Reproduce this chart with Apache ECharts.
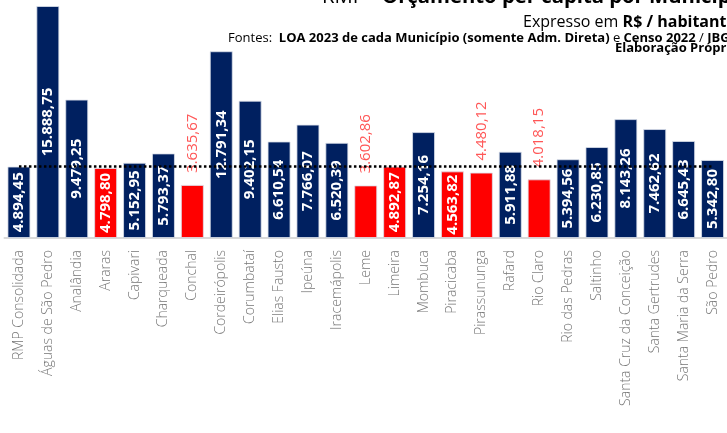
<!DOCTYPE html>
<html>
<head>
<meta charset="utf-8">
<script src="https://cdn.jsdelivr.net/npm/echarts@6/dist/echarts.min.js"></script>
<style>
html,body{margin:0;padding:0;background:#fff;}
#c{width:727px;height:433px;}
</style>
</head>
<body>
<div id="c"></div>
<script>
const categories = ["RMP Consolidada","Águas de São Pedro","Analândia","Araras","Capivari","Charqueada","Conchal","Cordeirópolis","Corumbataí","Elias Fausto","Ipeúna","Iracemápolis","Leme","Limeira","Mombuca","Piracicaba","Pirassununga","Rafard","Rio Claro","Rio das Pedras","Saltinho","Santa Cruz da Conceição","Santa Gertrudes","Santa Maria da Serra","São Pedro"];
const perCapita = [4894.45,15888.75,9479.25,4798.80,5152.95,5793.37,3635.67,12791.34,9402.15,6610.54,7766.07,6520.39,3602.86,4892.87,7254.16,4563.82,4480.12,5911.88,4018.15,5394.56,6230.85,8143.26,7462.62,6645.43,5342.80];
const rmpValue = perCapita[0];

function fmtBR(v){
  const parts = v.toFixed(2).split('.');
  const intp = parts[0].replace(/\B(?=(\d{3})+(?!\d))/g, '.');
  return intp + ',' + parts[1];
}

const NAVY = '#002060', RED = '#ff0000';
const seriesData = perCapita.map((v, i) => {
  const below = i > 0 && v < rmpValue;
  const outside = below && v < 4500;
  const item = {
    value: v,
    itemStyle: { color: below ? RED : NAVY }
  };
  if (outside) {
    item.label = {
      position: 'top', distance: 12, rotate: 90, align: 'left', verticalAlign: 'middle',
      color: '#ff5757', fontWeight: 'normal'
    };
  }
  return item;
});

const chart = echarts.init(document.getElementById('c'));
chart.setOption({
  animation: false,
  backgroundColor: '#ffffff',
  grid: { left: 4.5, right: -4, top: 0, bottom: 195, containLabel: false },
  xAxis: {
    type: 'category',
    data: categories,
    axisLine: { show: true, lineStyle: { color: '#d9d9d9', width: 2 } },
    axisTick: { show: false },
    axisLabel: {
      rotate: 90, interval: 0, margin: 12,
      color: '#767676', fontFamily: 'Open Sans', fontSize: 14, fontWeight: 300
    }
  },
  yAxis: {
    type: 'value', min: 0, max: 16300,
    show: false, splitLine: { show: false }
  },
  series: [{
    type: 'bar',
    data: seriesData,
    barWidth: 23,
    itemStyle: { borderColor: 'rgba(220,225,235,0.8)', borderWidth: 1 },
    label: {
      show: true, position: 'inside', rotate: 90,
      color: '#ffffff', fontFamily: 'Open Sans', fontWeight: 'bold', fontSize: 15,
      formatter: p => fmtBR(p.value)
    },
    markLine: {
      silent: true,
      symbol: ['none', 'none'],
      label: { show: false },
      lineStyle: { color: '#000', type: [2.5, 2.5], width: 2.5 },
      data: [[{ xAxis: 0, yAxis: rmpValue }, { xAxis: categories.length - 1, yAxis: rmpValue }]]
    },
    z: 2
  }],
  graphic: [
    {
      type: 'text', x: 322, y: -3,
      style: {
        text: '{a|RMP - }{b|Orçamento per capita por Município}',
        verticalAlign: 'middle',
        rich: {
          a: { fontFamily: 'Open Sans', fontSize: 20.3, color: '#595959' },
          b: { fontFamily: 'Open Sans', fontSize: 20.3, fontWeight: 'bold', color: '#000' }
        }
      }
    },
    {
      type: 'text', x: 523, y: 22,
      style: {
        text: '{a|Expresso em }{b|R$ / habitante}',
        verticalAlign: 'middle',
        rich: {
          a: { fontFamily: 'Open Sans', fontSize: 16, color: '#595959' },
          b: { fontFamily: 'Open Sans', fontSize: 16, fontWeight: 'bold', color: '#000' }
        }
      }
    },
    {
      type: 'text', x: 228, y: 38,
      style: {
        text: '{a|Fontes:  }{b|LOA 2023 de cada Município (somente Adm. Direta)}{a| e }{b|Censo 2022}{a| / }{b|IBGE}',
        verticalAlign: 'middle',
        rich: {
          a: { fontFamily: 'Open Sans', fontSize: 13, color: '#595959' },
          b: { fontFamily: 'Open Sans', fontSize: 13, fontWeight: 'bold', color: '#000' }
        }
      }
    },
    {
      type: 'text', x: 615, y: 48,
      style: {
        text: 'Elaboração Própria',
        verticalAlign: 'middle',
        fontFamily: 'Open Sans', fontSize: 13, fontWeight: 'bold', fill: '#000'
      }
    }
  ]
});
</script>
</body>
</html>
